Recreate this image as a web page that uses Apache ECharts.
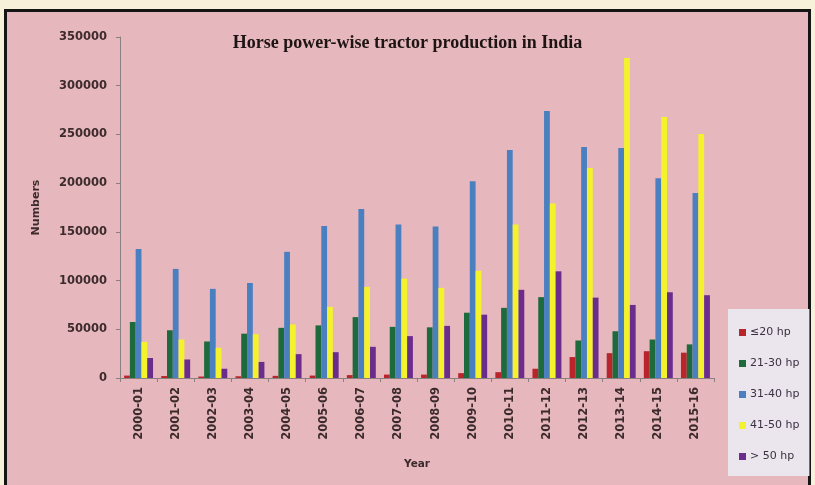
<!DOCTYPE html>
<html>
<head>
<meta charset="utf-8">
<script src="https://cdn.jsdelivr.net/npm/echarts@6/dist/echarts.min.js"></script>
<style>
  html, body { margin: 0; padding: 0; }
  body { width: 815px; height: 485px; background: #f8f1d9; position: relative; overflow: hidden; }
  #frame {
    position: absolute; left: 4px; top: 9px; width: 801px; height: 490px;
    border: 3px solid #151515; background: #e6b8bd;
  }
  #chart { position: absolute; left: 0; top: 0; width: 815px; height: 485px; }
</style>
</head>
<body>
<div id="frame"></div>
<div id="chart"></div>
<script>
// Tractor production in India by horse-power class (numbers per year)
const years = ['2000-01', '2001-02', '2002-03', '2003-04', '2004-05', '2005-06', '2006-07', '2007-08',
               '2008-09', '2009-10', '2010-11', '2011-12', '2012-13', '2013-14', '2014-15', '2015-16'];
const upTo20hp = [2500, 2000, 1500, 1800, 2200, 2500, 3000, 3500, 3500, 5000, 6000, 9500, 21500, 25500, 27500, 26000];
const hp21to30 = [57500, 49000, 37500, 45500, 51500, 54000, 62500, 52500, 52000, 67000, 72000, 83000, 38500, 48000, 39500, 34500];
const hp31to40 = [132500, 112000, 91500, 97500, 129500, 156000, 173500, 157500, 155500, 202000, 234000, 274000, 237000, 236000, 205000, 190000];
const hp41to50 = [37000, 39500, 31000, 45000, 55000, 73000, 93500, 102000, 92500, 110000, 157500, 179000, 215500, 328500, 268000, 250500];
const above50hp = [20500, 19000, 9500, 16500, 24500, 26500, 32000, 43000, 53500, 65000, 90500, 109500, 82500, 75000, 88000, 85000];

const seriesNames = ['\u226420 hp', '21-30 hp', '31-40 hp', '41-50 hp', '> 50 hp'];
const seriesData = [upTo20hp, hp21to30, hp31to40, hp41to50, above50hp];
const seriesColors = ['#b8262c', '#1d6a3c', '#4a7fc0', '#f4f22a', '#6b2d8c'];

const textColor = '#3d2b2c';
const axisColor = '#8c7f80';
const sansFont = '"DejaVu Sans", "Liberation Sans", sans-serif';

const chart = echarts.init(document.getElementById('chart'), null, { renderer: 'canvas' });

chart.setOption({
  backgroundColor: 'transparent',
  animation: false,
  title: {
    text: 'Horse power-wise tractor production in India',
    left: 'center',
    top: 29,
    textStyle: {
      fontFamily: '"Liberation Serif", "DejaVu Serif", serif',
      fontWeight: 'bold',
      fontSize: 18,
      color: '#1e1414'
    }
  },
  legend: {
    orient: 'vertical',
    left: 728,
    top: 309,
    padding: [18, 10, 14, 11],
    itemGap: 20,
    itemWidth: 7,
    itemHeight: 7,
    icon: 'rect',
    backgroundColor: '#ebe6ee',
    textStyle: {
      fontFamily: sansFont,
      fontSize: 11,
      color: '#3a3040',
      padding: [0, 0, 0, -1]
    },
    data: seriesNames
  },
  grid: {
    left: 120,
    top: 37,
    width: 594,
    height: 341
  },
  xAxis: {
    type: 'category',
    data: years,
    name: 'Year',
    nameLocation: 'middle',
    nameGap: 81,
    nameTextStyle: {
      fontFamily: sansFont,
      fontWeight: 'bold',
      fontSize: 10.5,
      color: textColor
    },
    axisLine: { lineStyle: { color: axisColor, width: 1 } },
    axisTick: { show: true, alignWithLabel: false, length: 4, lineStyle: { color: axisColor } },
    axisLabel: {
      rotate: 90,
      margin: 9,
      fontFamily: sansFont,
      fontWeight: 'bold',
      fontSize: 11.5,
      color: textColor
    },
    splitLine: { show: false }
  },
  yAxis: {
    type: 'value',
    min: 0,
    max: 350000,
    interval: 50000,
    name: 'Numbers',
    nameLocation: 'middle',
    nameGap: 78,
    nameRotate: 90,
    nameTextStyle: {
      fontFamily: sansFont,
      fontWeight: 'bold',
      fontSize: 11,
      color: textColor
    },
    axisLine: { show: true, lineStyle: { color: axisColor, width: 1 } },
    axisTick: { show: true, length: 4, lineStyle: { color: axisColor } },
    axisLabel: {
      margin: 13,
      formatter: (v) => String(v),
      fontFamily: sansFont,
      fontWeight: 'bold',
      fontSize: 11.5,
      color: textColor
    },
    splitLine: { show: false }
  },
  series: seriesNames.map((name, i) => ({
    name: name,
    type: 'bar',
    data: seriesData[i],
    barGap: '0%',
    barCategoryGap: '22%',
    itemStyle: { color: seriesColors[i] }
  }))
});
</script>
</body>
</html>
